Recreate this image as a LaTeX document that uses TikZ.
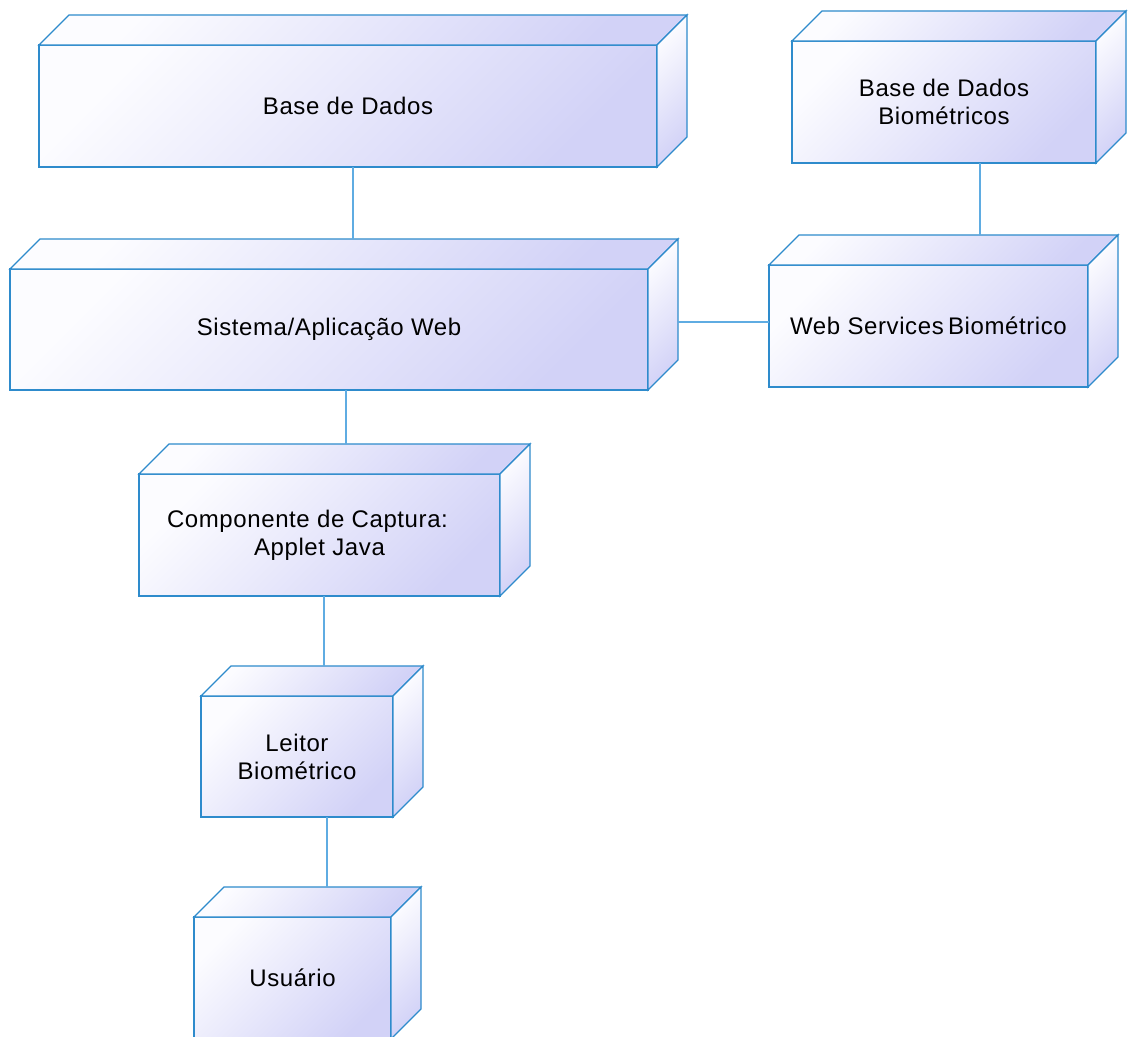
\documentclass[tikz,border=0pt]{standalone}
\usepackage{fontspec}
\setmainfont{Liberation Sans}[LetterSpace=2.5]
\usetikzlibrary{calc}
\definecolor{edgeblue}{RGB}{46,139,204}
\definecolor{connblue}{RGB}{95,172,226}
\definecolor{lightfill}{RGB}{252,252,255}
\definecolor{darkfill}{RGB}{210,210,247}
\tikzset{
  face/.style={draw=edgeblue, line width=1.3pt, line join=miter,
    top color=lightfill, bottom color=darkfill, shading angle=45},
  front/.style={face, rectangle, inner sep=0pt, outer sep=0pt, align=center,
    font=\fontsize{24}{28}\selectfont},
  conn/.style={draw=connblue, line width=1.3pt}
}
\newcommand\depbox[6]{%
  \pgfmathsetmacro\bw{#4-#2}\pgfmathsetmacro\bh{#5-#3}%
  \pgfmathsetmacro\cx{(#2+#4)/2}\pgfmathsetmacro\cy{(#3+#5)/2}%
  \node[front, minimum width=\bw pt, minimum height=\bh pt] (#1) at (\cx,\cy) {#6};
  \shade[face] (#1.north west) -- ($(#1.north west)+(30,-30)$) -- ($(#1.north east)+(30,-30)$) -- (#1.north east) -- cycle;
  \shade[face] (#1.north east) -- ($(#1.north east)+(30,-30)$) -- ($(#1.south east)+(30,-30)$) -- (#1.south east) -- cycle;
  \coordinate (#1-bt) at ($(#1.north west)+(30,-30)$);
  \coordinate (#1-br) at ($(#1.north east)+(30,-30)$);
}
\begin{document}
\begin{tikzpicture}[x=1pt, y=-1pt]
\useasboundingbox[fill=white] (0,0) rectangle (1129,1036);
\begin{scope}
\clip (0,0) rectangle (1129,1036);
\depbox{bd}{39}{45}{657}{167}{Base de Dados}
\depbox{bdb}{792}{41}{1096}{163}{Base de Dados\\ Biométricos}
\depbox{sis}{10}{269}{648}{390}{Sistema/Aplicação Web}
\depbox{ws}{769}{265}{1088}{387}{Web Services\hspace{-3pt} Biométrico}
\depbox{comp}{139}{474}{500}{596}{Componente de Captura:\hspace*{24pt}\\ Applet Java}
\depbox{leitor}{201}{696}{393}{817}{Leitor\\ Biométrico}
\depbox{usu}{194}{917}{391}{1039}{Usuário}
\end{scope}
\coordinate (k1) at (353,0);
\coordinate (k2) at (980,0);
\coordinate (k3) at (0,322);
\coordinate (k4) at (346,0);
\coordinate (k5) at (324,0);
\coordinate (k6) at (327,0);
\draw[conn] (bd.south -| k1) -- (sis-bt -| k1);
\draw[conn] (bdb.south -| k2) -- (ws-bt -| k2);
\draw[conn] (sis-br |- k3) -- (ws.west |- k3);
\draw[conn] (sis.south -| k4) -- (comp-bt -| k4);
\draw[conn] (comp.south -| k5) -- (leitor-bt -| k5);
\draw[conn] (leitor.south -| k6) -- (usu-bt -| k6);
\end{tikzpicture}
\end{document}
